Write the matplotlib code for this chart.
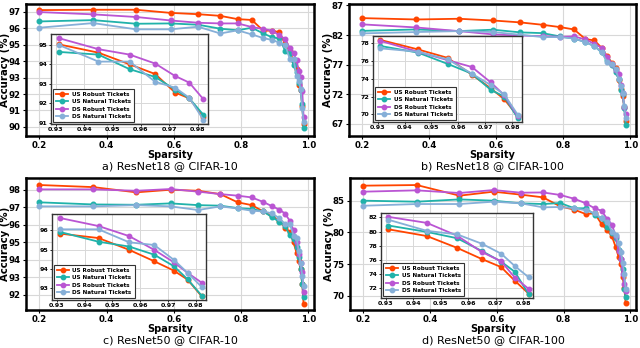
import matplotlib
matplotlib.use("Agg")
import matplotlib.pyplot as plt

sparsity = [0.200, 0.360, 0.488, 0.590, 0.672, 0.738, 0.790, 0.832, 0.866, 0.893,
            0.914, 0.931, 0.945, 0.956, 0.965, 0.972, 0.977, 0.982, 0.986]

series_names = ["US Robust Tickets", "US Natural Tickets", "DS Robust Tickets", "DS Natural Tickets"]
series_colors = ["#FF4500", "#20B2AA", "#BA55D3", "#86AFD8"]

# a) ResNet18 @ CIFAR-10
us_robust_a = [97.10, 97.12, 97.12, 96.93, 96.85, 96.75, 96.55, 96.50, 95.85, 95.85, 95.75, 95.03, 94.60, 94.00, 93.50, 92.55, 92.25, 91.30, 90.15]
us_natural_a = [96.41, 96.49, 96.27, 96.29, 96.21, 95.97, 95.87, 96.03, 95.68, 95.44, 95.38, 94.64, 94.50, 93.75, 93.35, 92.70, 92.25, 91.40, 89.96]
ds_robust_a = [96.98, 96.84, 96.68, 96.47, 96.33, 96.29, 96.29, 96.07, 95.95, 95.85, 95.56, 95.35, 94.78, 94.50, 94.04, 93.40, 93.06, 92.20, 90.63]
ds_natural_a = [96.03, 96.31, 95.93, 95.93, 96.09, 95.68, 95.87, 95.62, 95.40, 95.28, 95.12, 95.00, 94.14, 94.14, 93.10, 92.80, 92.28, 91.14, 90.30]

# b) ResNet18 @ CIFAR-100
us_robust_b = [84.86, 84.63, 84.75, 84.46, 84.13, 83.73, 83.34, 82.94, 81.31, 81.08, 79.85, 78.38, 77.31, 76.36, 74.46, 72.93, 71.71, 69.80, 67.45]
us_natural_b = [82.70, 82.94, 82.66, 82.90, 82.44, 82.32, 81.76, 81.40, 80.80, 80.10, 79.10, 77.70, 76.95, 75.68, 74.58, 72.76, 72.00, 69.58, 66.70]
ds_robust_b = [83.80, 83.28, 82.66, 82.10, 81.90, 81.80, 81.70, 81.76, 81.25, 80.50, 79.85, 78.27, 77.05, 76.10, 75.33, 73.60, 72.17, 69.77, 68.70]
ds_natural_b = [82.27, 82.50, 82.66, 82.50, 82.04, 81.65, 81.65, 81.40, 80.80, 80.10, 79.10, 77.43, 77.05, 76.20, 74.58, 73.30, 72.25, 69.96, 68.00]

# c) ResNet50 @ CIFAR-10
us_robust_c = [98.27, 98.15, 97.85, 98.00, 97.94, 97.75, 97.28, 97.12, 96.76, 96.48, 96.23, 95.83, 95.60, 94.99, 94.40, 93.92, 93.45, 92.60, 91.47]
us_natural_c = [97.28, 97.16, 97.14, 97.22, 97.12, 97.09, 96.95, 96.90, 96.76, 96.42, 96.17, 95.92, 95.41, 95.16, 94.74, 94.15, 93.47, 92.63, 91.85]
ds_robust_c = [98.02, 98.02, 97.94, 98.04, 97.89, 97.75, 97.66, 97.56, 97.30, 97.05, 96.86, 96.64, 96.22, 95.70, 94.99, 94.35, 93.80, 93.30, 92.13]
ds_natural_c = [97.05, 97.05, 97.12, 97.05, 96.84, 97.05, 96.93, 96.80, 96.76, 96.65, 96.36, 96.05, 96.05, 95.38, 95.24, 94.48, 93.80, 93.08, 92.50]

# d) ResNet50 @ CIFAR-100
us_robust_d = [87.37, 87.47, 85.79, 86.42, 85.95, 85.53, 84.10, 83.58, 82.90, 83.00, 81.30, 80.32, 79.36, 77.68, 76.09, 74.95, 73.00, 71.18, 68.80]
us_natural_d = [85.00, 84.84, 85.20, 85.00, 84.58, 84.47, 84.63, 83.80, 83.80, 82.80, 82.20, 80.86, 79.95, 79.05, 77.23, 75.73, 74.27, 71.10, 69.84]
ds_robust_d = [86.42, 86.63, 86.21, 86.68, 86.26, 86.30, 85.90, 85.30, 84.60, 83.80, 83.40, 82.09, 81.23, 79.41, 77.09, 75.77, 73.45, 71.86, 70.80]
ds_natural_d = [84.20, 84.47, 84.47, 84.84, 84.58, 83.95, 84.00, 83.80, 83.50, 83.05, 82.20, 81.68, 80.10, 79.60, 78.27, 76.86, 75.09, 73.50, 71.05]

titles = ["a) ResNet18 @ CIFAR-10", "b) ResNet18 @ CIFAR-100",
          "c) ResNet50 @ CIFAR-10", "d) ResNet50 @ CIFAR-100"]
main_xticks = [0.2, 0.4, 0.6, 0.8, 1.0]
main_yticks = [[90, 91, 92, 93, 94, 95, 96, 97], [67, 72, 77, 82, 87],
               [92, 93, 94, 95, 96, 97, 98], [70, 75, 80, 85]]
inset_xticks = [0.93, 0.94, 0.95, 0.96, 0.97, 0.98]
inset_yticks = [[91, 92, 93, 94, 95], [70, 72, 74, 76, 78],
                [93, 94, 95, 96], [72, 74, 76, 78, 80, 82]]

panels = [
    [us_robust_a, us_natural_a, ds_robust_a, ds_natural_a],
    [us_robust_b, us_natural_b, ds_robust_b, ds_natural_b],
    [us_robust_c, us_natural_c, ds_robust_c, ds_natural_c],
    [us_robust_d, us_natural_d, ds_robust_d, ds_natural_d],
]

W, H = 640, 348
fig = plt.figure(figsize=(6.4, 3.48), dpi=100)

def px(l, t, r, b):
    return [l / W, 1 - b / H, (r - l) / W, (b - t) / H]

main_boxes = [px(26, 4, 314, 136), px(349, 4, 636, 136),
              px(26, 178, 314, 310), px(350, 178, 636, 310)]
main_ylims = [(89.45, 97.47), (64.9, 87.25), (91.13, 98.67), (67.74, 88.58)]
inset_boxes = [px(51, 34, 208, 124), px(373, 36, 522, 122),
               px(52, 214, 206, 300), px(381, 213, 533, 298)]
title_y = [166.5, 166.5, 340.5, 340.5]

for i in range(4):
    ax = fig.add_axes(main_boxes[i])
    for vals, name, col in zip(panels[i], series_names, series_colors):
        ax.plot(sparsity, vals, color=col, marker="o", markersize=3.3, lw=1.3, label=name)
    ax.set_xlim(0.16, 1.017)
    ax.set_ylim(*main_ylims[i])
    ax.set_xticks(main_xticks)
    ax.set_yticks(main_yticks[i])
    ax.grid(True, color="#d8d8d8", lw=0.8)
    ax.set_axisbelow(True)
    for s in ax.spines.values():
        s.set_linewidth(1.8)
        s.set_color("black")
    ax.tick_params(labelsize=6.2, length=2.5, width=0.8, pad=1.2)
    for lab in ax.get_xticklabels() + ax.get_yticklabels():
        lab.set_fontweight("bold")
    ax.set_xlabel("Sparsity", fontsize=7, fontweight="bold", labelpad=0)
    ax.set_ylabel("Accuracy (%)", fontsize=7.3, fontweight="bold")
    ax.yaxis.set_label_coords(-0.057, 0.5)
    cx = (main_boxes[i][0] + main_boxes[i][2] / 2)
    fig.text(cx, 1 - title_y[i] / H, titles[i], ha="center", va="center", fontsize=8)

    axi = fig.add_axes(inset_boxes[i])
    for vals, name, col in zip(panels[i], series_names, series_colors):
        axi.plot(sparsity[11:18], vals[11:18], color=col, marker="o", markersize=3.2, lw=1.3, label=name)
    axi.set_xlim(0.9283, 0.9836)
    axi.set_xticks(inset_xticks)
    axi.set_yticks(inset_yticks[i])
    axi.grid(True, color="#d8d8d8", lw=0.7)
    axi.set_axisbelow(True)
    for s in axi.spines.values():
        s.set_linewidth(1.0)
        s.set_color("#333333")
    axi.tick_params(labelsize=4.6, length=1.5, width=0.6, pad=1)
    for lab in axi.get_xticklabels() + axi.get_yticklabels():
        lab.set_fontweight("bold")
    leg = axi.legend(loc="lower left", prop={"size": 4.1, "weight": "bold"},
                     handlelength=2.2, borderpad=0.5, labelspacing=0.45,
                     handletextpad=0.6, borderaxespad=0.3, fancybox=False, framealpha=1)
    leg.get_frame().set_edgecolor("#333333")
    leg.get_frame().set_linewidth(0.8)

fig.savefig("out.png", dpi=100)
